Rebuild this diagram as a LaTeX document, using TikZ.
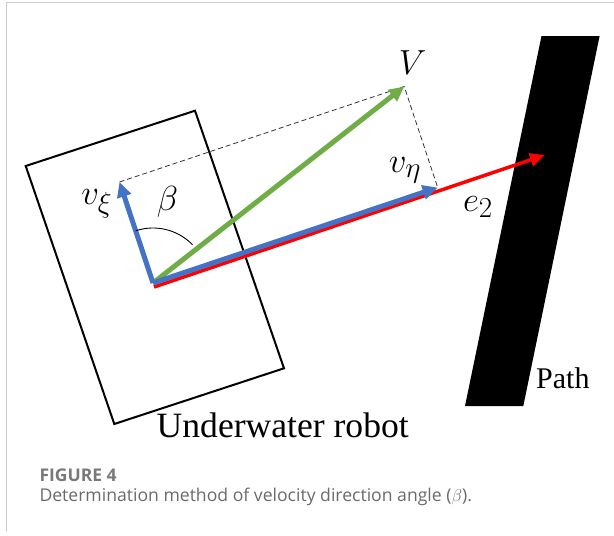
\documentclass[tikz,border=0pt]{standalone}
\usepackage{fontspec}
\usetikzlibrary{arrows.meta,calc}
\newfontfamily\timesf{Liberation Serif}
\newfontfamily\capf{Open Sans}
\definecolor{vblue}{HTML}{4472C4}
\definecolor{vgreen}{HTML}{70AD47}
\definecolor{vred}{HTML}{FF0000}
\definecolor{framegray}{HTML}{CCCCCC}
\definecolor{capgray}{HTML}{6A6A6A}
\tikzset{
  vecblue/.style={draw=vblue, line width=5pt, -{Triangle[length=15pt,width=14pt]}},
  vecgreen/.style={draw=vgreen, line width=5pt, -{Triangle[length=15pt,width=14pt]}},
  vecred/.style={draw=vred, line width=3.5pt, -{Triangle[length=15pt,width=13pt]}},
  proj/.style={draw=black!80, line width=0.8pt, dash pattern=on 5pt off 3pt},
  mathlbl/.style={font=\fontsize{24.88}{27}\selectfont, inner sep=0pt, scale=1.4, transform shape},
  body/.style={draw=black, line width=2pt, line join=miter},
}
\begin{document}
\begin{tikzpicture}[x=1pt,y=-1pt]
\useasboundingbox (0,0) rectangle (614,536);
% frame
\draw[framegray, line width=1.5pt] (6.3,531) -- (6.3,2.5) -- (614,2.5);
% robot body
\coordinate (TL) at (25.7,166);
\coordinate (TR) at (195,110.7);
\coordinate (BR) at (284,368.3);
\coordinate (BL) at (114.3,424);
\draw[body] (TL) -- (TR) -- (BR) -- (BL) -- cycle;
% path
\coordinate (P1) at (541.5,36);
\coordinate (P2) at (599.6,36);
\coordinate (P3) at (523.3,406);
\coordinate (P4) at (465,406);
\fill[black] (P1) -- (P2) -- (P3) -- (P4) -- cycle;
% vectors
\coordinate (O) at (153,283);
\coordinate (A) at (119.5,182);
\coordinate (B) at (437.7,187.5);
\coordinate (C) at (404.2,86.5);
\coordinate (R0) at (154,287);
\coordinate (R1) at (545,155);
\draw[proj] (A) -- (C) -- (B);
\draw[vecred] (R0) -- (R1);
\draw[vecgreen] (O) -- (C);
\draw[vecblue] (O) -- (B);
\draw[vecblue] (O) -- (A);
% angle arc
\coordinate (arcstart) at ($(O)+(108.3:55pt)$);
\draw[black, line width=0.9pt] (arcstart) arc[start angle=108.3, end angle=44, radius=55pt];
% labels
\node[mathlbl] (lV) at (412.7,63) {$V$};
\node[mathlbl] (lveta) at (405,170) {$v_\eta$};
\node[mathlbl] (le2) at (478,207) {$e_2$};
\node[mathlbl] (lvxi) at (97,204) {$v_\xi$};
\node[mathlbl] (lbeta) at (167.5,202) {$\beta$};
\node[anchor=base west, inner sep=0pt, font=\timesf\fontsize{30}{32}\selectfont] (lpath) at (536,388.3) {Path};
\node[anchor=base west, inner sep=0pt, font=\timesf\fontsize{35.6}{38}\selectfont] (lrobot) at (156.5,437) {Underwater robot};
% caption
\node[anchor=base west, inner sep=0pt, text=capgray!90, font=\capf\bfseries\fontsize{17.5}{19}\selectfont] (fig) at (39.3,481.7) {FIGURE 4};
\node[anchor=base west, inner sep=0pt, text=capgray, font=\capf\fontsize{17.6}{19}\selectfont] (cap) at (39.3,501.7) {Determination method of velocity direction angle ($\beta$).};
\end{tikzpicture}
\end{document}
